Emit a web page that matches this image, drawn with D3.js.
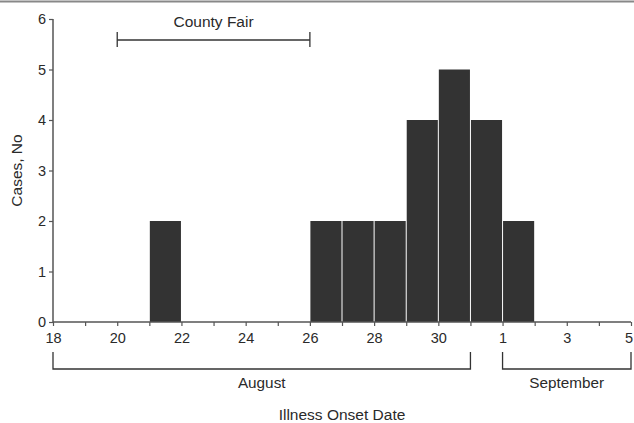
<!DOCTYPE html>
<html>
<head>
<meta charset="utf-8">
<script src="https://cdn.jsdelivr.net/npm/d3@7"></script>
<style>
  html, body { margin: 0; padding: 0; background: #fff; }
  svg { display: block; }
  text { font-family: "Liberation Sans", Arial, Helvetica, sans-serif; fill: #2a2a2a; }
</style>
</head>
<body>
<svg id="chart" width="634" height="423"></svg>
<script>
// ---- data ----
const barDates = ["2000-08-21", "2000-08-26", "2000-08-27", "2000-08-28", "2000-08-29", "2000-08-30", "2000-08-31", "2000-09-01"];
const cases = [2, 2, 2, 2, 4, 5, 4, 2];
const xDomain = ["2000-08-18", "2000-09-05"];
const yTicks = [0, 1, 2, 3, 4, 5, 6];
const fairSpan = ["2000-08-20", "2000-08-26"];
const fairLabel = "County Fair";
const monthSpans = [["2000-08-18", "2000-08-31"], ["2000-09-01", "2000-09-05"]];
const monthLabels = ["August", "September"];
const xTitle = "Illness Onset Date";
const yTitle = "Cases, No";

// ---- setup ----
const parse = d3.utcParse("%Y-%m-%d");
const svg = d3.select("#chart");
const W = 634, H = 423;
const mLeft = 53, mRight = 631, mTop = 19, mBottom = 322;

const x = d3.scaleUtc().domain(xDomain.map(parse)).range([mLeft, mRight]);
const y = d3.scaleLinear().domain([0, 6]).range([mBottom, mTop]);

const axisColor = "#555";
const barColor = "#333";
const fontFam = '"Liberation Sans", Arial, sans-serif';

// top rule
svg.append("line")
  .attr("x1", 0).attr("x2", W).attr("y1", 1.5).attr("y2", 1.5)
  .attr("stroke", "#888").attr("stroke-width", 2);

// bars
const bars = barDates.map((d, i) => ({ date: parse(d), value: cases[i] }));
svg.append("g").selectAll("rect").data(bars).join("rect")
  .attr("x", d => x(d.date) + 0.5)
  .attr("width", d => x(d3.utcDay.offset(d.date, 1)) - x(d.date) - 1)
  .attr("y", d => y(d.value))
  .attr("height", d => y(0) - y(d.value))
  .attr("fill", barColor);

// x axis
const allDays = d3.utcDay.range(parse(xDomain[0]), d3.utcDay.offset(parse(xDomain[1]), 1));
const labelDays = allDays.filter((d, i) => i % 2 === 0);
const xAxis = d3.axisBottom(x)
  .tickValues(allDays)
  .tickSize(4)
  .tickPadding(7)
  .tickFormat(d => labelDays.some(l => +l === +d) ? d3.utcFormat("%-d")(d) : "");
const gx = svg.append("g").attr("transform", `translate(0,${mBottom})`).call(xAxis);
gx.select(".domain").attr("stroke", axisColor).attr("stroke-width", 1.5).attr("d", `M${mLeft},0H${mRight}`);
gx.selectAll(".tick line").attr("stroke", axisColor).attr("stroke-width", 1.2);
gx.selectAll(".tick text").style("font-family", fontFam)
  .style("font-size", "14.5px").attr("fill", "#2a2a2a");
// keep the last label inside the frame
gx.selectAll(".tick text").filter((d, i, n) => i === n.length - 1).attr("dx", -2.5);

// y axis
const yAxis = d3.axisLeft(y).tickValues(yTicks).tickSize(4).tickPadding(3).tickFormat(d3.format("d"));
const gy = svg.append("g").attr("transform", `translate(${mLeft},0)`).call(yAxis);
gy.select(".domain").attr("stroke", axisColor).attr("stroke-width", 1.5).attr("d", `M0,${mBottom}V${mTop}`);
gy.selectAll(".tick line").attr("stroke", axisColor).attr("stroke-width", 1.2);
gy.selectAll(".tick text").style("font-family", fontFam)
  .style("font-size", "14.5px").attr("fill", "#2a2a2a");

// county fair bracket
const fx1 = x(parse(fairSpan[0])), fx2 = x(parse(fairSpan[1]));
const fb = svg.append("g").attr("stroke", "#333").attr("stroke-width", 1.3).attr("fill", "none");
fb.append("line").attr("x1", fx1).attr("x2", fx2).attr("y1", 40).attr("y2", 40);
fb.append("line").attr("x1", fx1).attr("x2", fx1).attr("y1", 32).attr("y2", 47);
fb.append("line").attr("x1", fx2).attr("x2", fx2).attr("y1", 32).attr("y2", 47);
svg.append("text").attr("x", (fx1 + fx2) / 2).attr("y", 27).attr("text-anchor", "middle")
  .style("font-size", "15.5px").text(fairLabel);

// month brackets
monthSpans.forEach((s, i) => {
  const a = x(parse(s[0])), b = x(parse(s[1]));
  svg.append("path")
    .attr("d", `M${a},352V369H${b}V352`)
    .attr("stroke", "#333").attr("stroke-width", 1.3).attr("fill", "none");
  svg.append("text").attr("x", (a + b) / 2).attr("y", 388).attr("text-anchor", "middle")
    .style("font-size", "15.3px").text(monthLabels[i]);
});

// axis titles
svg.append("text").attr("x", (mLeft + mRight) / 2).attr("y", 420).attr("text-anchor", "middle")
  .style("font-size", "15.5px").text(xTitle);
svg.append("text").attr("transform", `translate(22,${(mTop + mBottom) / 2}) rotate(-90)`)
  .attr("text-anchor", "middle").style("font-size", "15.5px").text(yTitle);
</script>
</body>
</html>
